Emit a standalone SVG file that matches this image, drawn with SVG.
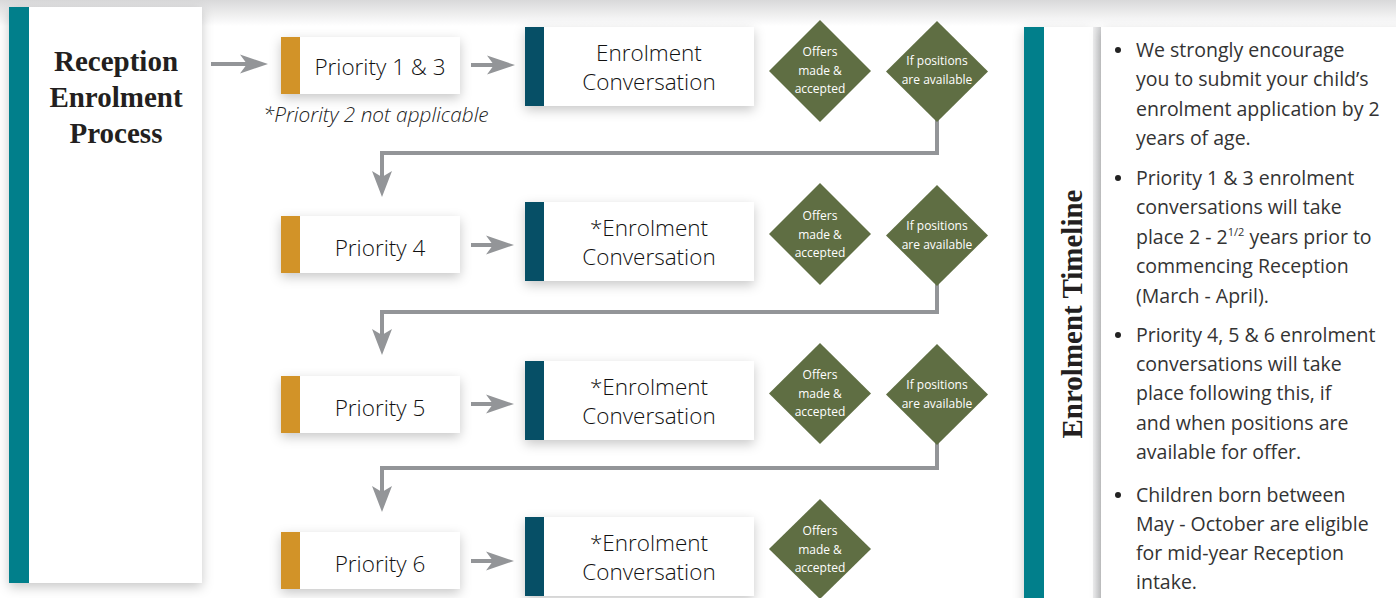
<svg xmlns="http://www.w3.org/2000/svg" width="1396" height="598" viewBox="0 0 1396 598">
<defs>
<linearGradient id="topShade" x1="0" y1="0" x2="0" y2="1">
<stop offset="0" stop-color="#d9d9da"/>
<stop offset="1" stop-color="#ffffff"/>
</linearGradient>
<linearGradient id="gapShade" x1="0" y1="0" x2="1" y2="0">
<stop offset="0" stop-color="#eeeeef"/>
<stop offset="1" stop-color="#cfd0d2"/>
</linearGradient>
<filter id="shadow" x="-20%" y="-20%" width="140%" height="150%">
<feDropShadow dx="0" dy="4" stdDeviation="6" flood-color="#000" flood-opacity="0.22"/>
</filter>
<marker id="arrow" markerUnits="userSpaceOnUse" viewBox="0 0 28 20" refX="8" refY="10" markerWidth="28" markerHeight="20" orient="auto">
<path d="M0,0.5 L28,10 L0,19.5 L7,10 Z" fill="#939598"/>
</marker>
<marker id="arrowDown" markerUnits="userSpaceOnUse" viewBox="0 0 26 20" refX="6" refY="10" markerWidth="26" markerHeight="20" orient="auto">
<path d="M0,0 L26,10 L0,20 L6,10 Z" fill="#939598"/>
</marker>
</defs>
<style>
.card{fill:#ffffff;filter:url(#shadow);}
.teal{fill:#017f8b;}
.gold{fill:#d29328;}
.navy{fill:#064f66;}
.dia{fill:#5f6e43;}
.conn{fill:none;stroke:#939598;stroke-width:4;stroke-linejoin:miter;}
.title{font-family:"Liberation Serif","DejaVu Serif",serif;font-weight:bold;font-size:29px;fill:#231f20;text-anchor:middle;}
.lbl{font-family:"Open Sans","Noto Sans","Liberation Sans",sans-serif;font-size:22.5px;font-weight:300;fill:#111111;text-anchor:middle;}
.note{font-family:"Open Sans","Noto Sans","Liberation Sans",sans-serif;font-size:20.8px;font-weight:300;font-style:italic;fill:#222222;}
.dt{font-family:"Open Sans","Noto Sans","Liberation Sans",sans-serif;font-size:12px;fill:#ffffff;text-anchor:middle;}
.bt{font-family:"Open Sans","Noto Sans","Liberation Sans",sans-serif;font-size:19.5px;fill:#333333;}
.dot{fill:#222222;}
</style>
<rect x="0" y="0" width="1396" height="598" fill="#ffffff"/>
<rect x="0" y="0" width="1396" height="26" fill="url(#topShade)"/>

<g id="connectors">
<path class="conn" d="M211,64 H248" marker-end="url(#arrow)"/>
<path class="conn" d="M471,65 H495" marker-end="url(#arrow)"/>
<path class="conn" d="M471,245 H494" marker-end="url(#arrow)"/>
<path class="conn" d="M471,404 H494" marker-end="url(#arrow)"/>
<path class="conn" d="M471,561 H494" marker-end="url(#arrow)"/>
<path class="conn" d="M937,120 V153 H382 V177" marker-end="url(#arrowDown)"/>
<path class="conn" d="M937,284 V312 H382 V335" marker-end="url(#arrowDown)"/>
<path class="conn" d="M937,443 V468 H382 V492" marker-end="url(#arrowDown)"/>
</g>

<g id="start">
<rect class="card" x="9" y="7" width="193" height="576"/>
<rect class="teal" x="9" y="7" width="20" height="576"/>
<text class="title" x="116" y="71">Reception</text>
<text class="title" x="116" y="107">Enrolment</text>
<text class="title" x="116" y="143">Process</text>
</g>

<g id="p13">
<rect class="card" x="281" y="37" width="179" height="57"/>
<rect class="gold" x="281" y="37" width="19" height="57"/>
<text class="lbl" x="380" y="75">Priority 1 &amp; 3</text>
</g>
<g id="note-p2">
<text class="note" x="263" y="122">*Priority 2 not applicable</text>
</g>
<g id="conv1">
<rect class="card" x="525" y="27" width="229" height="79"/>
<rect class="navy" x="525" y="27" width="19" height="79"/>
<text class="lbl" x="649" y="61">Enrolment</text>
<text class="lbl" x="649" y="90">Conversation</text>
</g>
<g id="offer1">
<polygon class="dia" points="820,20 871,71 820,122 769,71"/>
<text class="dt" x="820" y="56">Offers</text>
<text class="dt" x="820" y="75">made &amp;</text>
<text class="dt" x="820" y="93">accepted</text>
</g>
<g id="avail1">
<polygon class="dia" points="937,21 988,71.5 937,122 886,71.5"/>
<text class="dt" x="937" y="65">If positions</text>
<text class="dt" x="937" y="84">are available</text>
</g>

<g id="p4">
<rect class="card" x="281" y="216" width="179" height="57"/>
<rect class="gold" x="281" y="216" width="19" height="57"/>
<text class="lbl" x="380" y="256">Priority 4</text>
</g>
<g id="conv2">
<rect class="card" x="525" y="202" width="229" height="79"/>
<rect class="navy" x="525" y="202" width="19" height="79"/>
<text class="lbl" x="649" y="236">*Enrolment</text>
<text class="lbl" x="649" y="265">Conversation</text>
</g>
<g id="offer2">
<polygon class="dia" points="820,183 871,234 820,285 769,234"/>
<text class="dt" x="820" y="220">Offers</text>
<text class="dt" x="820" y="239">made &amp;</text>
<text class="dt" x="820" y="257">accepted</text>
</g>
<g id="avail2">
<polygon class="dia" points="937,185 988,235.5 937,286 886,235.5"/>
<text class="dt" x="937" y="230">If positions</text>
<text class="dt" x="937" y="249">are available</text>
</g>

<g id="p5">
<rect class="card" x="281" y="376" width="179" height="57"/>
<rect class="gold" x="281" y="376" width="19" height="57"/>
<text class="lbl" x="380" y="416">Priority 5</text>
</g>
<g id="conv3">
<rect class="card" x="525" y="361" width="229" height="79"/>
<rect class="navy" x="525" y="361" width="19" height="79"/>
<text class="lbl" x="649" y="395">*Enrolment</text>
<text class="lbl" x="649" y="424">Conversation</text>
</g>
<g id="offer3">
<polygon class="dia" points="820,343 871,393.5 820,444 769,393.5"/>
<text class="dt" x="820" y="379">Offers</text>
<text class="dt" x="820" y="398">made &amp;</text>
<text class="dt" x="820" y="416">accepted</text>
</g>
<g id="avail3">
<polygon class="dia" points="937,344 988,394.5 937,445 886,394.5"/>
<text class="dt" x="937" y="389">If positions</text>
<text class="dt" x="937" y="408">are available</text>
</g>

<g id="p6">
<rect class="card" x="281" y="532" width="179" height="57"/>
<rect class="gold" x="281" y="532" width="19" height="57"/>
<text class="lbl" x="380" y="572">Priority 6</text>
</g>
<g id="conv4">
<rect class="card" x="525" y="517" width="229" height="79"/>
<rect class="navy" x="525" y="517" width="19" height="79"/>
<text class="lbl" x="649" y="551">*Enrolment</text>
<text class="lbl" x="649" y="580">Conversation</text>
</g>
<g id="offer4">
<polygon class="dia" points="820,499 871,549 820,599 769,549"/>
<text class="dt" x="820" y="535">Offers</text>
<text class="dt" x="820" y="554">made &amp;</text>
<text class="dt" x="820" y="572">accepted</text>
</g>

<g id="timeline">
<rect class="card" x="1024" y="27" width="69" height="600"/>
<rect class="teal" x="1024" y="27" width="20" height="600"/>
<text class="title" transform="translate(1082,314) rotate(-90)" x="0" y="0">Enrolment Timeline</text>
</g>
<g id="notes">
<rect x="1093" y="27" width="8" height="600" fill="url(#gapShade)"/>
<rect class="card" x="1101" y="27" width="310" height="600"/>
<circle class="dot" cx="1118" cy="50" r="3"/>
<text class="bt" x="1136" y="57">We strongly encourage</text>
<text class="bt" x="1136" y="86">you to submit your child’s</text>
<text class="bt" x="1136" y="116">enrolment application by 2</text>
<text class="bt" x="1136" y="145">years of age.</text>
<circle class="dot" cx="1118" cy="178" r="3"/>
<text class="bt" x="1136" y="185">Priority 1 &amp; 3 enrolment</text>
<text class="bt" x="1136" y="214">conversations will take</text>
<text class="bt" x="1136" y="244">place 2 - 2<tspan font-size="11" dy="-8">1/2</tspan><tspan dy="8"> years prior to</tspan></text>
<text class="bt" x="1136" y="273">commencing Reception</text>
<text class="bt" x="1136" y="303">(March - April).</text>
<circle class="dot" cx="1118" cy="335" r="3"/>
<text class="bt" x="1136" y="342">Priority 4, 5 &amp; 6 enrolment</text>
<text class="bt" x="1136" y="371">conversations will take</text>
<text class="bt" x="1136" y="400">place following this, if</text>
<text class="bt" x="1136" y="430">and when positions are</text>
<text class="bt" x="1136" y="459">available for offer.</text>
<circle class="dot" cx="1118" cy="495" r="3"/>
<text class="bt" x="1136" y="502">Children born between</text>
<text class="bt" x="1136" y="531">May - October are eligible</text>
<text class="bt" x="1136" y="560">for mid-year Reception</text>
<text class="bt" x="1136" y="589">intake.</text>
</g>
</svg>
